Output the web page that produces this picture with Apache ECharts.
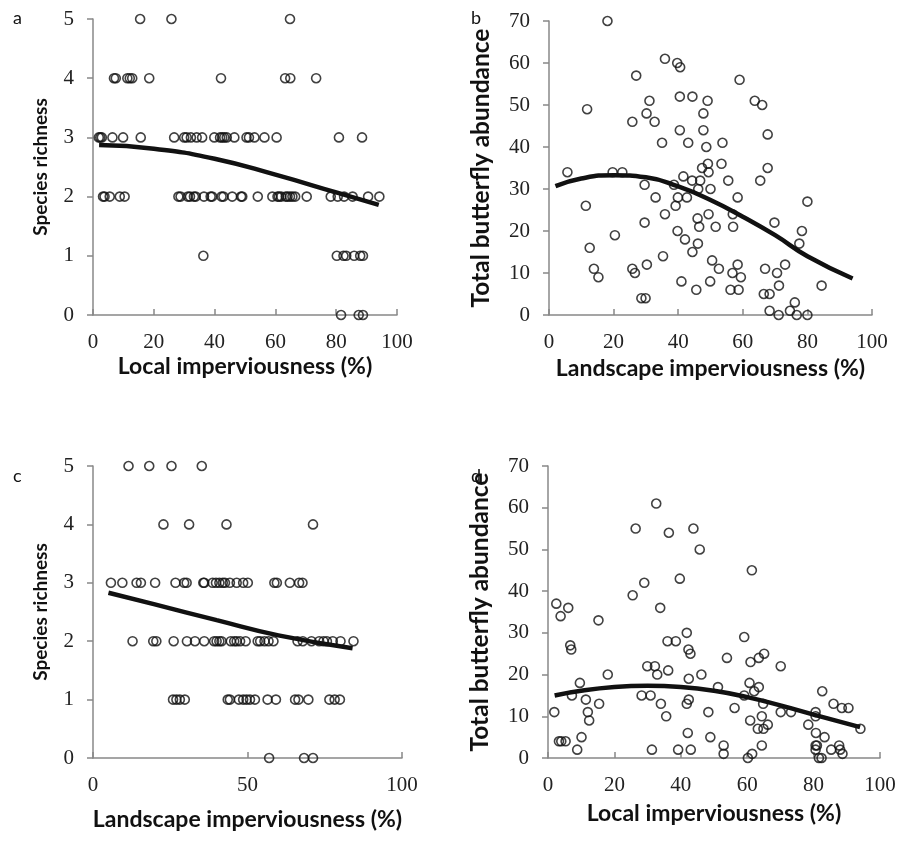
<!DOCTYPE html>
<html>
<head>
<meta charset="utf-8">
<script src="https://cdn.jsdelivr.net/npm/echarts@6/dist/echarts.min.js"></script>
<style>
  html, body { margin: 0; padding: 0; background: #fff; }
  #chart { width: 904px; height: 844px; }
</style>
</head>
<body>
<div id="chart"></div>
<script>
// panel a: species richness vs local imperviousness
var aPoints = [
  [15.5,5],[25.8,5],[64.8,5],
  [6.9,4],[7.5,4],[11.3,4],[12.1,4],[12.9,4],[18.5,4],[42.1,4],[63.2,4],[64.9,4],[73.4,4],
  [1.9,3],[2.4,3],[2.9,3],[6.4,3],[9.9,3],[15.7,3],[26.7,3],[30.0,3],[30.8,3],[32.2,3],[34.1,3],[35.9,3],
  [39.9,3],[41.8,3],[42.5,3],[43.2,3],[44.0,3],[46.5,3],[50.5,3],[51.3,3],[53.1,3],[56.4,3],[60.4,3],[80.9,3],[88.5,3],
  [3.3,2],[3.8,2],[5.5,2],[8.8,2],[10.4,2],[28.1,2],[28.8,2],[31.2,2],[31.9,2],[33.2,2],[33.8,2],[36.5,2],
  [38.7,2],[39.2,2],[42.3,2],[42.9,2],[45.8,2],[48.7,2],[49.1,2],[54.2,2],[59.0,2],[60.7,2],[61.2,2],[61.9,2],
  [63.4,2],[64.0,2],[64.8,2],[65.6,2],[66.5,2],[70.3,2],[78.2,2],[80.5,2],[82.6,2],[85.4,2],[90.5,2],[94.2,2],
  [36.3,1],[80.2,1],[82.4,1],[83.3,1],[85.9,1],[87.9,1],[88.8,1],
  [81.6,0],[87.4,0],[88.8,0]
];
var aFit = [[2,2.87],[20,2.81],[40,2.64],[60,2.37],[80,2.07],[94,1.86]];

// panel b: total abundance vs landscape imperviousness
var bPoints = [
  [18.1,70],[35.9,61],[39.7,60],[40.6,59],[27.0,57],[59.0,56],[11.8,49],[40.5,52],[44.4,52],[31.1,51],
  [49.1,51],[63.7,51],[66.0,50],[30.2,48],[47.8,48],[25.8,46],[32.7,46],[40.5,44],[47.8,44],[67.7,43],
  [35.0,41],[43.1,41],[53.7,41],[48.7,40],[49.2,36],[53.4,36],[47.4,35],[49.4,34],[67.7,35],[5.7,34],
  [19.7,34],[22.7,34],[41.6,33],[44.3,32],[46.8,32],[55.5,32],[65.4,32],[29.6,31],[38.7,31],[46.2,30],
  [50.0,30],[33.0,28],[39.9,28],[42.7,28],[58.4,28],[80.0,27],[11.4,26],[39.2,26],[35.9,24],[49.4,24],
  [56.9,24],[46.0,23],[29.6,22],[46.5,21],[51.6,21],[57.0,21],[69.8,22],[39.8,20],[78.3,20],[20.4,19],
  [42.1,18],[77.5,17],[46.1,17],[12.6,16],[44.4,15],[35.3,14],[50.5,13],[13.9,11],[25.8,11],[52.6,11],
  [66.9,11],[30.3,12],[58.4,12],[73.1,12],[15.3,9],[26.6,10],[56.8,10],[59.4,9],[70.6,10],[41.0,8],
  [49.9,8],[71.2,7],[84.4,7],[45.6,6],[56.2,6],[58.7,6],[66.5,5],[68.3,5],[28.6,4],[29.9,4],
  [76.1,3],[68.3,1],[74.6,1],[71.1,0],[76.7,0],[80.0,0]
];
var bFit = [[2,30.7],[10,32.5],[20,33.3],[30,32.8],[40,30.6],[50,27.4],[60,23.4],[70,19.0],[80,14.0],[94,8.7]];

// panel c: species richness vs landscape imperviousness
var cPoints = [
  [11.5,5],[18.2,5],[25.4,5],[35.2,5],
  [22.8,4],[31.1,4],[43.2,4],[71.2,4],
  [5.8,3],[9.5,3],[14.1,3],[15.5,3],[20.1,3],[26.7,3],[29.5,3],[30.3,3],[35.7,3],[36.0,3],[38.7,3],[39.8,3],
  [40.9,3],[42.0,3],[42.7,3],[44.3,3],[46.5,3],[48.6,3],[50.1,3],[58.7,3],[59.5,3],[63.7,3],[66.7,3],[67.8,3],
  [12.8,2],[19.5,2],[20.5,2],[26.1,2],[30.4,2],[33.0,2],[36.0,2],[39.2,2],[40.0,2],[40.9,2],[41.6,2],[44.6,2],
  [45.7,2],[46.5,2],[47.6,2],[49.4,2],[53.3,2],[54.1,2],[55.5,2],[56.8,2],[58.4,2],[66.2,2],[67.9,2],[70.7,2],
  [73.2,2],[74.6,2],[75.7,2],[77.6,2],[80.1,2],[84.3,2],
  [25.9,1],[27.0,1],[28.1,1],[29.7,1],[43.6,1],[44.3,1],[47.2,1],[48.6,1],[49.7,1],[50.8,1],[52.4,1],[56.5,1],
  [59.2,1],[65.4,1],[66.5,1],[69.7,1],[76.5,1],[78.2,1],[79.9,1],
  [57.0,0],[68.3,0],[71.2,0]
];
var cFit = [[5,2.83],[20,2.63],[40,2.36],[60,2.10],[84,1.88]];

// panel d: total abundance vs local imperviousness
var dPoints = [
  [32.6,61],[26.4,55],[43.8,55],[36.4,54],[45.7,50],[61.4,45],[39.7,43],[29.0,42],[25.5,39],[2.5,37],
  [6.1,36],[33.8,36],[3.8,34],[15.2,33],[41.8,30],[59.1,29],[6.7,27],[7.0,26],[36.0,28],[38.5,28],
  [42.3,26],[42.9,25],[65.1,25],[63.5,24],[53.9,24],[61.0,23],[29.9,22],[32.2,22],[70.1,22],[36.2,21],
  [18.0,20],[32.9,20],[46.2,20],[42.4,19],[9.6,18],[60.7,18],[51.2,17],[63.5,17],[62.1,16],[82.6,16],
  [7.2,15],[28.2,15],[30.9,15],[59.1,15],[11.4,14],[42.4,14],[15.4,13],[34.0,13],[41.8,13],[64.8,13],
  [86.0,13],[56.2,12],[88.5,12],[90.5,12],[1.9,11],[12.0,11],[48.3,11],[70.1,11],[73.2,11],[80.6,11],
  [35.6,10],[64.4,10],[80.6,10],[12.4,9],[60.9,9],[66.2,8],[78.4,8],[63.2,7],[64.9,7],[94.1,7],
  [42.1,6],[80.7,6],[10.1,5],[48.9,5],[83.3,5],[3.3,4],[4.0,4],[5.3,4],[52.9,3],[64.4,3],
  [80.6,3],[81.0,3],[87.7,3],[8.8,2],[31.3,2],[39.2,2],[43.0,2],[52.9,1],[61.5,1],[80.6,2],
  [85.3,2],[88.0,2],[88.7,1],[60.2,0],[81.6,0],[82.4,0]
];
var dFit = [[2,15.0],[20,17.0],[30,17.3],[40,17.0],[50,16.1],[60,14.6],[70,12.6],[80,10.4],[94,7.4]];

var panelLetters = ['a', 'b', 'c', 'd'];
var yTitles = ['Species richness', 'Total butterfly abundance', 'Species richness', 'Total butterfly abundance'];
var xTitles = ['Local imperviousness (%)', 'Landscape imperviousness (%)', 'Landscape imperviousness (%)', 'Local imperviousness (%)'];

var chart = echarts.init(document.getElementById('chart'));

var grids = [
  { left: 93, top: 19, width: 304, height: 296 },
  { left: 549, top: 21, width: 323, height: 294 },
  { left: 93, top: 466, width: 309, height: 292 },
  { left: 548, top: 466, width: 332, height: 292 }
];
var yMax = [5, 70, 5, 70];
var yStep = [1, 10, 1, 10];
var xStep = [20, 20, 50, 20];
var yGap = [43, 55, 43, 55];
var xGap = [40, 42, 50, 44];
var yTitleSize = [19, 24.5, 19, 24.5];
var xTitleSize = [23, 23, 23, 23];
var letterPos = [[8, 4], [466, 4], [8, 462], [466, 462]];

var tickFont = { fontFamily: 'Liberation Serif', fontSize: 21, color: '#222' };
var axisLine = { show: true, lineStyle: { color: '#888', width: 1.5 } };

function titleFont(size) {
  return { fontFamily: 'Lato', fontWeight: 'bold', fontSize: size, color: '#111' };
}

var xAxes = [], yAxes = [], series = [], titles = [];
[aPoints, bPoints, cPoints, dPoints].forEach(function(pts, i) {
  var fit = [aFit, bFit, cFit, dFit][i];
  xAxes.push({
    type: 'value', gridIndex: i, min: 0, max: 100, interval: xStep[i],
    name: xTitles[i], nameLocation: 'middle', nameGap: xGap[i], nameTextStyle: titleFont(xTitleSize[i]),
    axisLine: axisLine,
    axisTick: { show: true, inside: true, length: 6, lineStyle: { color: '#888', width: 1.5 } },
    axisLabel: Object.assign({ margin: 17 }, tickFont),
    splitLine: { show: false }
  });
  yAxes.push({
    type: 'value', gridIndex: i, min: 0, max: yMax[i], interval: yStep[i],
    name: yTitles[i], nameLocation: 'middle', nameGap: yGap[i], nameTextStyle: titleFont(yTitleSize[i]),
    axisLine: axisLine,
    axisTick: { show: true, length: 6, lineStyle: { color: '#888', width: 1.5 } },
    axisLabel: Object.assign({ margin: 19 }, tickFont),
    splitLine: { show: false }
  });
  series.push({
    type: 'scatter', xAxisIndex: i, yAxisIndex: i, data: pts,
    symbol: 'circle', symbolSize: 9,
    itemStyle: { color: 'rgba(0,0,0,0)', borderColor: '#111', borderWidth: 1.6 },
    z: 3
  });
  series.push({
    type: 'line', xAxisIndex: i, yAxisIndex: i, data: fit,
    smooth: true, symbol: 'none',
    lineStyle: { color: '#111', width: 4.5 },
    z: 4
  });
  titles.push({
    text: panelLetters[i], left: letterPos[i][0], top: letterPos[i][1],
    textStyle: { fontFamily: 'Lato', fontWeight: 'normal', fontSize: 18, color: '#111' }
  });
});

chart.setOption({
  animation: false,
  backgroundColor: '#fff',
  title: titles,
  grid: grids,
  xAxis: xAxes,
  yAxis: yAxes,
  series: series
});
</script>
</body>
</html>
